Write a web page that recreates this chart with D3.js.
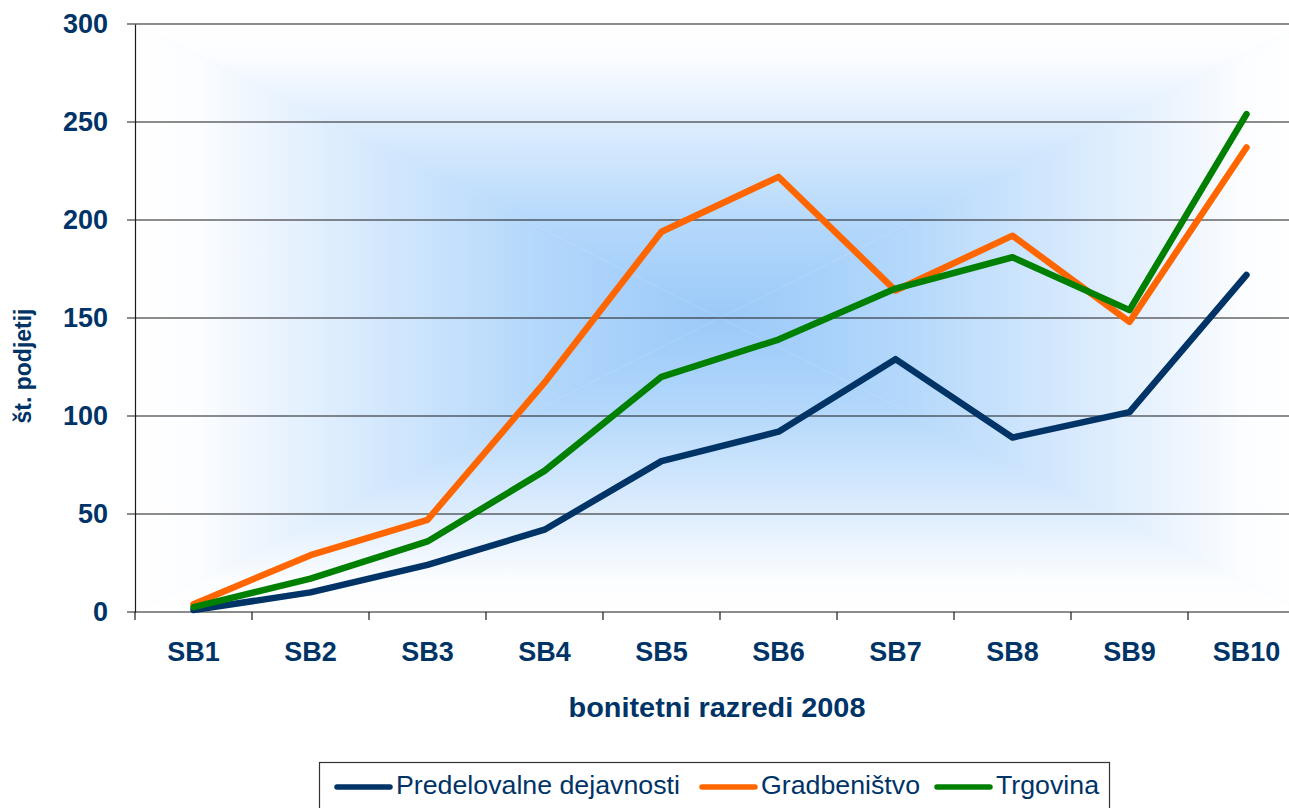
<!DOCTYPE html>
<html>
<head>
<meta charset="utf-8">
<script src="https://cdn.jsdelivr.net/npm/d3@7"></script>
<style>
  body { margin: 0; background: #fff; overflow: hidden; }
  text { font-family: "Liberation Sans", Arial, sans-serif; }
</style>
</head>
<body>
<svg id="chart"></svg>
<script>
var width = 1289,
    height = 808;

// data
var categories = ["SB1", "SB2", "SB3", "SB4", "SB5", "SB6", "SB7", "SB8", "SB9", "SB10"];
var predelovalne = [1, 10, 24, 42, 77, 92, 129, 89, 102, 172];
var gradbenistvo = [4, 29, 47, 117, 194, 222, 164, 192, 148, 237];
var trgovina = [2.5, 17, 36, 72, 120, 139, 165, 181, 154, 254];
var yTicks = [0, 50, 100, 150, 200, 250, 300];

var series = [
  {name: "Predelovalne dejavnosti", values: predelovalne, color: "#003366"},
  {name: "Gradbeništvo", values: gradbenistvo, color: "#ff6600"},
  {name: "Trgovina", values: trgovina, color: "#008000"}
];

var textColor = "#003366";

// plot box (runs off the right edge, like the original)
var plot = {left: 135, right: 1305, top: 24, bottom: 612};

var x = d3.scaleBand()
    .domain(categories)
    .range([plot.left, plot.right]);

var y = d3.scaleLinear()
    .domain([0, 300])
    .range([plot.bottom, plot.top]);

var svg = d3.select("#chart")
    .attr("width", width)
    .attr("height", height);

// rectangular "from centre" gradient, built from 4 triangles
var defs = svg.append("defs");
var cx = (plot.left + plot.right) / 2,
    cy = (plot.top + plot.bottom) / 2;

var sides = [
  {id: "gTop", pts: [[plot.left, plot.top], [plot.right, plot.top], [cx, cy]], from: [cx, plot.top]},
  {id: "gBottom", pts: [[plot.left, plot.bottom], [plot.right, plot.bottom], [cx, cy]], from: [cx, plot.bottom]},
  {id: "gLeft", pts: [[plot.left, plot.top], [plot.left, plot.bottom], [cx, cy]], from: [plot.left, cy]},
  {id: "gRight", pts: [[plot.right, plot.top], [plot.right, plot.bottom], [cx, cy]], from: [plot.right, cy]}
];

var stops = [
  [0, "#ffffff"],
  [0.1, "#fcfdff"],
  [0.4, "#d6e9fd"],
  [0.7, "#b2d7fb"],
  [1, "#9bc9f9"]
];

sides.forEach(function(s) {
  defs.append("linearGradient")
      .attr("id", s.id)
      .attr("gradientUnits", "userSpaceOnUse")
      .attr("x1", s.from[0]).attr("y1", s.from[1])
      .attr("x2", cx).attr("y2", cy)
    .selectAll("stop")
    .data(stops)
    .enter().append("stop")
      .attr("offset", d => d[0])
      .attr("stop-color", d => d[1]);
});

var bg = svg.append("g").attr("class", "background");
bg.append("rect")
    .attr("x", plot.left).attr("y", plot.top)
    .attr("width", plot.right - plot.left)
    .attr("height", plot.bottom - plot.top)
    .attr("fill", "#e2effd");
sides.forEach(function(s) {
  bg.append("path")
      .attr("d", "M" + s.pts.join("L") + "Z")
      .attr("fill", "url(#" + s.id + ")");
});

// gridlines
svg.append("g")
    .attr("class", "grid")
  .selectAll("line")
  .data(yTicks)
  .enter().append("line")
    .attr("x1", plot.left - 8)
    .attr("x2", plot.right)
    .attr("y1", d => y(d))
    .attr("y2", d => y(d))
    .attr("stroke", "#1a1a1a")
    .attr("stroke-width", 1.2);

// Y axis
var yAxis = d3.axisLeft(y)
    .tickValues(yTicks)
    .tickSize(0)
    .tickPadding(27);

svg.append("g")
    .attr("class", "y axis")
    .attr("transform", `translate(${plot.left}, 0)`)
    .call(yAxis)
    .call(g => g.select(".domain").attr("stroke", "#1a1a1a").attr("stroke-width", 1.2))
    .call(g => g.selectAll("text")
        .attr("fill", textColor)
        .attr("font-size", 27)
        .attr("font-weight", "bold"));

// X axis (ticks between the categories)
svg.append("g")
    .attr("class", "x ticks")
  .selectAll("line")
  .data(categories)
  .enter().append("line")
    .attr("x1", d => x(d))
    .attr("x2", d => x(d))
    .attr("y1", plot.bottom)
    .attr("y2", plot.bottom + 8)
    .attr("stroke", "#1a1a1a")
    .attr("stroke-width", 1.2);

var xAxis = d3.axisBottom(x)
    .tickSize(0)
    .tickPadding(30);

svg.append("g")
    .attr("class", "x axis")
    .attr("transform", `translate(0, ${plot.bottom})`)
    .call(xAxis)
    .call(g => g.select(".domain").remove())
    .call(g => g.selectAll("text")
        .attr("fill", textColor)
        .attr("font-size", 27)
        .attr("font-weight", "bold"));

// lines
var line = d3.line()
    .x((d, i) => x(categories[i]) + x.bandwidth() / 2)
    .y(d => y(d));

svg.append("g")
    .attr("class", "lines")
  .selectAll("path")
  .data(series)
  .enter().append("path")
    .attr("d", d => line(d.values))
    .attr("fill", "none")
    .attr("stroke", d => d.color)
    .attr("stroke-width", 6.5)
    .attr("stroke-linejoin", "round")
    .attr("stroke-linecap", "round");

// axis titles (the original text is a bit wider than Liberation Sans)
svg.append("text")
    .attr("transform", "translate(717, 717) scale(1.07, 1)")
    .attr("text-anchor", "middle")
    .attr("fill", textColor)
    .attr("font-size", 27)
    .attr("font-weight", "bold")
    .text("bonitetni razredi 2008");

svg.append("text")
    .attr("transform", "translate(31, 366) rotate(-90)")
    .attr("text-anchor", "middle")
    .attr("fill", textColor)
    .attr("font-size", 23)
    .attr("font-weight", "bold")
    .text("št. podjetij");

// legend
var legend = svg.append("g").attr("class", "legend");
legend.append("rect")
    .attr("x", 319.5)
    .attr("y", 762.5)
    .attr("width", 790)
    .attr("height", 60)
    .attr("fill", "#fff")
    .attr("stroke", "#333")
    .attr("stroke-width", 1.2);

var legendX = [337, 702, 937];
var item = legend.selectAll(".item")
    .data(series)
  .enter().append("g")
    .attr("class", "item")
    .attr("transform", (d, i) => `translate(${legendX[i]}, 787)`);

item.append("line")
    .attr("x1", 0).attr("x2", 53)
    .attr("stroke", d => d.color)
    .attr("stroke-width", 5.5)
    .attr("stroke-linecap", "round");

item.append("text")
    .attr("transform", "translate(59, 7) scale(1.07, 1)")
    .attr("fill", textColor)
    .attr("font-size", 25)
    .text(d => d.name);
</script>
</body>
</html>
